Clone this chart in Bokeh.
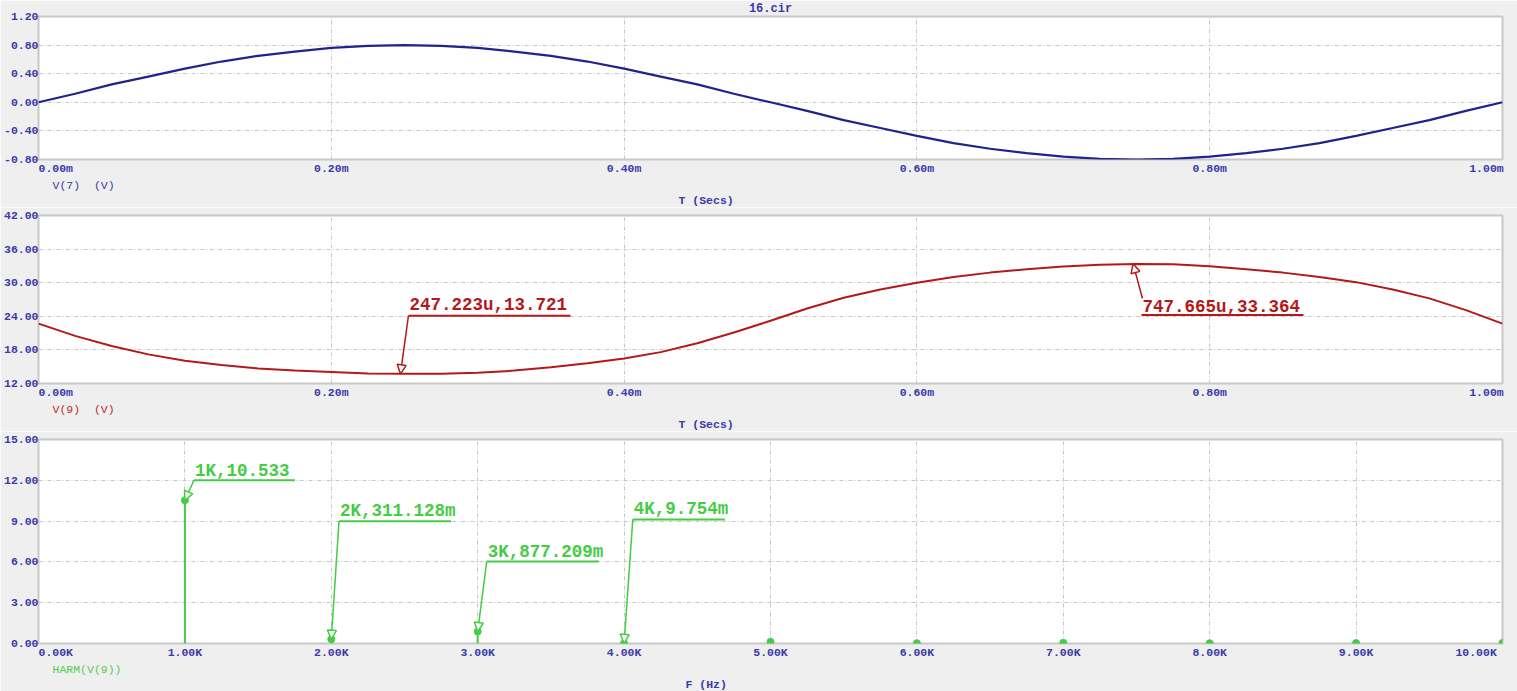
from bokeh.plotting import figure
from bokeh.layouts import column
from bokeh.models import (Label, Arrow, NormalHead, FixedTicker, Range1d, Title,
                          NumeralTickFormatter, PrintfTickFormatter)
from bokeh.embed import file_html
from bokeh.resources import INLINE

# ---------------- data ----------------
title = "16.cir"

t_ms = [0.000, 0.025, 0.050, 0.075, 0.100, 0.125, 0.150, 0.175, 0.200, 0.225,
        0.250, 0.275, 0.300, 0.325, 0.350, 0.375, 0.400, 0.425, 0.450, 0.475,
        0.500, 0.525, 0.550, 0.575, 0.600, 0.625, 0.650, 0.675, 0.700, 0.725,
        0.750, 0.775, 0.800, 0.825, 0.850, 0.875, 0.900, 0.925, 0.950, 0.975, 1.000]

v7 = [0.00, 0.12, 0.25, 0.36, 0.47, 0.57, 0.65, 0.71, 0.76, 0.79,
      0.80, 0.79, 0.76, 0.71, 0.65, 0.57, 0.47, 0.36, 0.25, 0.12,
      0.00, -0.12, -0.25, -0.36, -0.47, -0.57, -0.65, -0.71, -0.76, -0.79,
      -0.80, -0.79, -0.76, -0.71, -0.65, -0.57, -0.47, -0.36, -0.25, -0.12, 0.00]

v9 = [22.7, 20.5, 18.7, 17.2, 16.05, 15.3, 14.7, 14.3, 14.05, 13.8,
      13.72, 13.74, 13.9, 14.3, 14.9, 15.6, 16.45, 17.6, 19.2, 21.1,
      23.2, 25.4, 27.3, 28.8, 30.0, 31.0, 31.8, 32.4, 32.9, 33.2,
      33.36, 33.3, 32.95, 32.4, 31.8, 31.0, 30.1, 28.8, 27.2, 25.1, 22.7]

harm_k = [1, 2, 3, 4, 5, 6, 7, 8, 9, 10]            # kHz
harm_v = [10.533, 0.311128, 0.877209, 0.009754, 0.12, 0.02, 0.05, 0.02, 0.03, 0.04]

v9_mark_t = [0.247223, 0.747665]
v9_mark_v = [13.721, 33.364]
v9_mark_txt = ["247.223u,13.721", "747.665u,33.364"]

harm_mark_k = [1, 2, 3, 4]
harm_mark_v = [10.533, 0.311128, 0.877209, 0.009754]
harm_mark_txt = ["1K,10.533", "2K,311.128m", "3K,877.209m", "4K,9.754m"]

x1_ticks = [0, 0.2, 0.4, 0.6, 0.8, 1.0]
y1_ticks = [-0.8, -0.4, 0.0, 0.4, 0.8, 1.2]
y2_ticks = [12, 18, 24, 30, 36, 42]
x3_ticks = [0, 1, 2, 3, 4, 5, 6, 7, 8, 9, 10]
y3_ticks = [0, 3, 6, 9, 12, 15]

x1_first, x1_last = "0.00m", "1.00m"
x3_first, x3_last = "0.00K", "10.00K"

NB = "\u00a0"
v7_name = "V(7)" + NB + NB + "(V)"
v9_name = "V(9)" + NB + NB + "(V)"
harm_name = "HARM(V(9))"
t_name = "T (Secs)"
f_name = "F (Hz)"

# ---------------- layout / style ----------------
W = 1517
LEFT, RIGHT = 38, 15
FW = W - LEFT - RIGHT
BG = "#efefef"
OUTLINE = "#c8c8c8"
GRID = "#c6c6c6"
TICK_C = "#3a3aaa"
BLUE_LINE = "#22228c"
RED = "#b41818"
GREEN = "#44cc44"
FONT = "Liberation Mono"

# annotation layout (pixels): dx, dy (up) to underline start, underline length, label above point?
v9_lay = [(8, 59.5, 162, True), (8.4, -52.4, 162, False)]
harm_lay = [(9, 20, 101, True), (7.7, 118.7, 112, True), (9, 70.3, 112, True), (8.7, 124.6, 92, True)]


def base_fig(height, top, bottom, xr, yr, xt, yt, xfmt, first, last, n_lead, n_trail):
    p = figure(width=W, height=height, x_range=Range1d(*xr), y_range=Range1d(*yr),
               output_backend="svg", toolbar_location=None,
               min_border_left=LEFT, min_border_right=RIGHT,
               min_border_top=top, min_border_bottom=bottom,
               border_fill_color=BG, background_fill_color="white",
               outline_line_color=OUTLINE, outline_line_width=2)
    p.xaxis.ticker = FixedTicker(ticks=xt)
    p.yaxis.ticker = FixedTicker(ticks=yt)
    p.xaxis.formatter = PrintfTickFormatter(format=xfmt)
    p.yaxis.formatter = NumeralTickFormatter(format="0.00")
    # first label sits right of its tick, last one left of it (as in the original)
    p.xaxis.major_label_overrides = {xt[0]: NB * n_lead + first, xt[-1]: last + NB * n_trail}
    for ax in (p.xaxis[0], p.yaxis[0]):
        ax.axis_line_color = None
        ax.major_tick_line_color = None
        ax.minor_tick_line_color = None
        ax.major_tick_out = 0
        ax.major_tick_in = 0
        ax.major_label_text_font = FONT
        ax.major_label_text_font_size = "11.5px"
        ax.major_label_text_font_style = "bold"
        ax.major_label_text_color = TICK_C
    p.yaxis.major_label_standoff = 0
    p.xaxis.major_label_standoff = 2
    p.grid.grid_line_color = GRID
    p.grid.grid_line_dash = "4 2 1 2"
    p.grid.grid_line_width = 1
    return p


def side_title(p, text, color, side="below", align="left", offset=0, style="normal", size="11.5px"):
    p.add_layout(Title(text=text, align=align, offset=offset, standoff=0,
                       vertical_align="middle", text_font=FONT, text_font_size=size,
                       text_font_style=style, text_color=color), side)


def annotate(p, px, py, text, lay, color, xs, ys):
    dx, dy, ulen, above = lay
    ux = px + dx * xs
    uy = py + dy * ys
    p.segment(x0=[ux], y0=[uy], x1=[ux + ulen * xs], y1=[uy], line_color=color, line_width=2)
    if above:
        lx, ly = ux, uy
    else:
        lx, ly = ux + 1 * xs, uy + 17 * ys
    p.add_layout(Arrow(end=NormalHead(size=9, line_color=color, line_width=1.5, fill_color="white"),
                       x_start=lx, y_start=ly, x_end=px, y_end=py,
                       line_color=color, line_width=1.5))
    p.add_layout(Label(x=px, y=py, x_offset=dx + 1, y_offset=dy + 9.5, text=text,
                       text_align="left", text_baseline="middle", text_font=FONT,
                       text_font_size="17.5px", text_font_style="bold", text_color=color))


# ---------------- figure 1 : V(7) ----------------
H1, T1, B1 = 207, 15, 44
p1 = base_fig(H1, T1, B1, (0, 1.0), (-0.8, 1.2), x1_ticks, y1_ticks, "%.2fm",
              x1_first, x1_last, 5, 2)
p1.line(t_ms, v7, line_color=BLUE_LINE, line_width=2.2)
side_title(p1, title, TICK_C, side="above", align="center", style="bold", size="12px")
side_title(p1, v7_name, TICK_C, offset=14)
side_title(p1, t_name, TICK_C, offset=640, style="bold")

# ---------------- figure 2 : V(9) ----------------
H2, T2, B2 = 224, 8, 44
p2 = base_fig(H2, T2, B2, (0, 1.0), (12, 42), x1_ticks, y2_ticks, "%.2fm",
              x1_first, x1_last, 5, 2)
p2.line(t_ms, v9, line_color=RED, line_width=2)
xs2 = 1.0 / FW
ys2 = 30.0 / (H2 - T2 - B2)
for t, v, txt, lay in zip(v9_mark_t, v9_mark_v, v9_mark_txt, v9_lay):
    annotate(p2, t, v, txt, lay, RED, xs2, ys2)
side_title(p2, v9_name, "#c02828", offset=14)
side_title(p2, t_name, TICK_C, offset=640, style="bold")

# ---------------- figure 3 : HARM(V(9)) ----------------
H3, T3, B3 = 260, 8, 47
p3 = base_fig(H3, T3, B3, (0, 10), (0, 15), x3_ticks, y3_ticks, "%.2fK",
              x3_first, x3_last, 5, 3)
p3.segment(x0=harm_k, y0=[0] * len(harm_k), x1=harm_k, y1=harm_v, line_color=GREEN, line_width=2)
p3.scatter(harm_k, harm_v, size=7, color=GREEN)
xs3 = 10.0 / FW
ys3 = 15.0 / (H3 - T3 - B3)
for k, v, txt, lay in zip(harm_mark_k, harm_mark_v, harm_mark_txt, harm_lay):
    annotate(p3, k, v, txt, lay, GREEN, xs3, ys3)
side_title(p3, harm_name, "#55cc55", offset=14)
side_title(p3, f_name, TICK_C, offset=647, style="bold")

layout = column(p1, p2, p3, spacing=0)

open("out.html", "w").write(file_html(layout, INLINE))
